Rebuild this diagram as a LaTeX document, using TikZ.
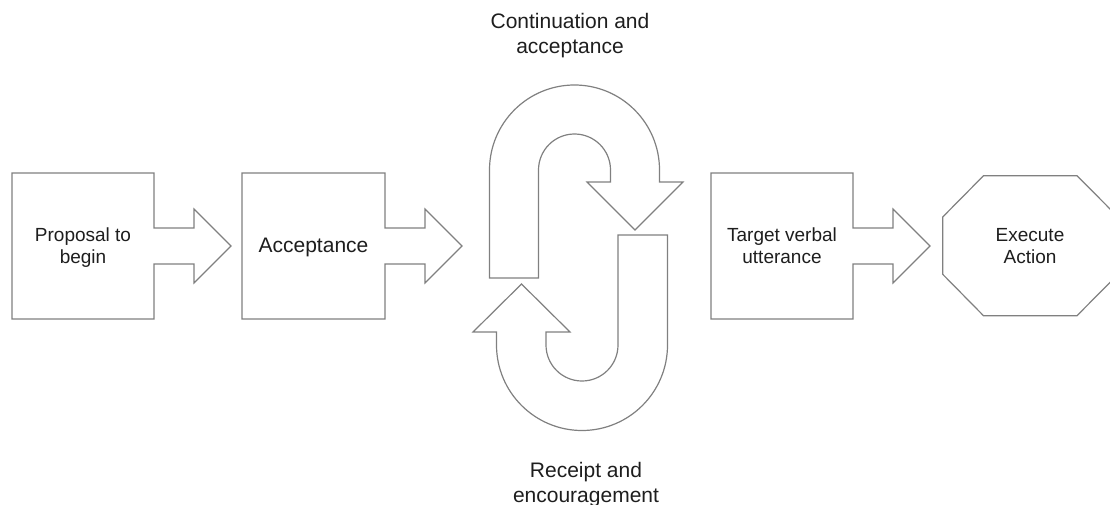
\documentclass[tikz,border=0pt]{standalone}
\usepackage{fontspec}
\setmainfont{Liberation Sans}
\definecolor{linegray}{RGB}{128,128,128}
\definecolor{textcol}{RGB}{30,30,30}
\tikzset{
  shapeline/.style={draw=linegray, line width=1.2pt, line join=miter, fill=white},
  smalllabel/.style={align=center, text=textcol, font=\fontsize{19}{22}\selectfont, inner sep=0pt},
  biglabel/.style={align=center, text=textcol, font=\fontsize{21}{25}\selectfont, inner sep=0pt},
}
% box with arrow: #1 left x, #2 right x (image coordinates, y down)
\newcommand{\boxarrow}[2]{%
  \draw[shapeline] (#1,-173) -- (#2,-173) -- (#2,-228) -- ({#2+40},-228) -- ({#2+40},-209)
    -- ({#2+77},-246) -- ({#2+40},-283) -- ({#2+40},-264) -- (#2,-264) -- (#2,-319)
    -- (#1,-319) -- cycle;}
\begin{document}
\begin{tikzpicture}[x=1pt,y=1pt]
\useasboundingbox (0,0) rectangle (1110,-505);
\clip (0,0) rectangle (1110,-505);

% boxes with arrows
\boxarrow{12}{154}
\boxarrow{242}{385}
\boxarrow{711}{853}

% upper U-turn arrow
\draw[shapeline] (489.5,-278) -- (489.5,-170) arc[start angle=180,end angle=0,radius=85]
  -- (659.5,-182) -- (683,-182) -- (635,-230) -- (587,-182) -- (610.5,-182) -- (610.5,-170)
  arc[start angle=0,end angle=180,radius=36] -- (538.5,-278) -- cycle;

% lower U-turn arrow
\draw[shapeline] (618,-235) -- (667.5,-235) -- (667.5,-345)
  arc[start angle=0,end angle=-180,radius=85.5]
  -- (496.5,-332) -- (473,-332) -- (521.5,-284) -- (570,-332) -- (546,-332) -- (546,-345)
  arc[start angle=180,end angle=360,radius=36] -- cycle;

% octagon
\draw[shapeline] (942.7,-217) -- (983.5,-175.7) -- (1077,-175.7) -- (1118,-217)
  -- (1118,-274.3) -- (1077,-315.7) -- (983.5,-315.7) -- (942.7,-274.3) -- cycle;

% labels
\node[smalllabel] (proposal) at (83,-247.6) {Proposal to\\begin};
\node[biglabel, anchor=base] (acceptance) at (313.5,-252.7) {Acceptance};
\node[smalllabel] (target) at (782,-245.7) {Target verbal\\utterance};
\node[smalllabel] (execute) at (1030,-245.7) {Execute\\Action};
\node[biglabel] (continuation) at (570,-35.1) {Continuation and\\acceptance};
\node[biglabel] (receipt) at (586,-484.1) {Receipt and\\encouragement};
\end{tikzpicture}
\end{document}
